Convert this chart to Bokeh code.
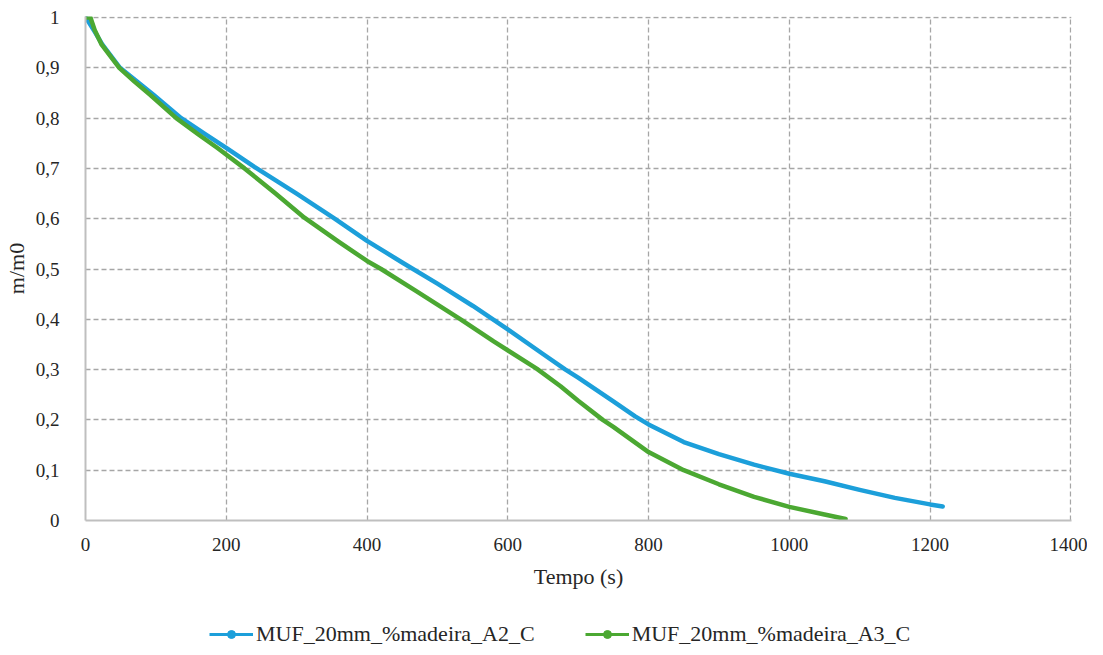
from bokeh.plotting import figure
from bokeh.layouts import column
from bokeh.models import (ColumnDataSource, Range1d, FixedTicker, CustomJSTickFormatter,
                          Legend, LegendItem)
from bokeh.embed import file_html
from bokeh.resources import INLINE

# ---- data ----
a2_t = [0, 5, 13, 24, 49, 75, 97, 136, 170, 200, 240, 300, 354, 400, 450, 500, 550,
        600, 650, 682, 700, 750, 781, 800, 850, 900, 950, 1000, 1050, 1100, 1150, 1200, 1218]
a2_v = [1.0, 0.99, 0.972, 0.946, 0.9, 0.871, 0.846, 0.8, 0.768, 0.741, 0.703, 0.65, 0.6,
        0.556, 0.513, 0.471, 0.427, 0.38, 0.331, 0.3, 0.284, 0.237, 0.207, 0.191, 0.156,
        0.132, 0.111, 0.093, 0.078, 0.061, 0.045, 0.032, 0.028]

a3_t = [0, 7, 13, 23, 48, 70, 93, 129, 160, 188, 226, 270, 311, 360, 400, 420, 470, 533,
        580, 641, 675, 700, 735, 750, 800, 850, 900, 926, 950, 1000, 1050, 1080]
a3_v = [1.0, 1.0, 0.975, 0.946, 0.9, 0.872, 0.845, 0.8, 0.768, 0.74, 0.7, 0.65, 0.602,
        0.554, 0.516, 0.5, 0.456, 0.4, 0.356, 0.302, 0.267, 0.238, 0.2, 0.186, 0.136, 0.1,
        0.072, 0.059, 0.047, 0.027, 0.012, 0.003]

names = ["MUF_20mm_%madeira_A2_C", "MUF_20mm_%madeira_A3_C"]
colors = ["#1c9fda", "#4ba832"]

x_ticks = [0, 200, 400, 600, 800, 1000, 1200, 1400]
y_ticks = [0, 0.1, 0.2, 0.3, 0.4, 0.5, 0.6, 0.7, 0.8, 0.9, 1.0]

FONT = "Liberation Serif"
TXT = "#262626"

p = figure(width=1087, height=600, output_backend="svg", toolbar_location=None,
           x_range=Range1d(0, 1401), y_range=Range1d(0, 1.002))
p.min_border_left = 84
p.min_border_right = 16
p.min_border_top = 16
p.min_border_bottom = 80
p.outline_line_color = None
p.background_fill_color = "white"
p.border_fill_color = "white"

for ax in (p.xaxis[0], p.yaxis[0]):
    ax.axis_line_color = "#bfbfbf"
    ax.axis_line_width = 2
    ax.major_tick_line_color = None
    ax.minor_tick_line_color = None
    ax.major_label_text_font = FONT
    ax.major_label_text_font_size = "19px"
    ax.major_label_text_color = TXT
    ax.axis_label_text_font = FONT
    ax.axis_label_text_font_style = "normal"
    ax.axis_label_text_font_size = "22px"
    ax.axis_label_text_color = TXT

p.xaxis.ticker = FixedTicker(ticks=x_ticks)
p.yaxis.ticker = FixedTicker(ticks=y_ticks)
p.yaxis.formatter = CustomJSTickFormatter(code="""
    if (Math.abs(tick) < 1e-9) return "0";
    if (Math.abs(tick - 1) < 1e-9) return "1";
    return tick.toFixed(1).replace('.', ',');
""")
p.xaxis.axis_label = "Tempo (s)"
p.yaxis.axis_label = "m/m0"
p.xaxis.major_label_standoff = 11
p.yaxis.major_label_standoff = 20
p.xaxis.axis_label_standoff = 10
p.yaxis.axis_label_standoff = 4

for g in (p.xgrid[0], p.ygrid[0]):
    g.grid_line_color = "#a6a6a6"
    g.grid_line_dash = "5 3"
    g.grid_line_width = 1.3

s2 = ColumnDataSource(dict(x=a2_t, y=a2_v))
s3 = ColumnDataSource(dict(x=a3_t, y=a3_v))
p.line("x", "y", source=s2, line_color=colors[0], line_width=4.5, line_join="round", line_cap="round")
p.line("x", "y", source=s3, line_color=colors[1], line_width=4.5, line_join="round", line_cap="round")

# ---- legend strip below the chart ----
p2 = figure(width=1087, height=55, output_backend="svg", toolbar_location=None,
            x_axis_type=None, y_axis_type=None, x_range=Range1d(0, 1), y_range=Range1d(0, 1),
            min_border_left=0, min_border_right=0, min_border_top=0, min_border_bottom=0)
p2.frame_align = False
p2.outline_line_color = None
p2.xgrid.visible = False
p2.ygrid.visible = False
items = []
for name, c in zip(names, colors):
    # off-screen stand-ins: these only supply the legend's key glyphs
    ln = p2.line(x=[-5, -4], y=[-5, -5], line_color=c, line_width=3)
    sc = p2.scatter(x=[-5], y=[-5], marker="circle", size=6, fill_color=c, line_color=c)
    items.append(LegendItem(label=name, renderers=[ln, sc]))
legend = Legend(items=items, orientation="horizontal", location=(209, 8))
legend.border_line_color = None
legend.background_fill_alpha = 0
legend.padding = 0
legend.margin = 0
legend.spacing = 50
legend.glyph_width = 44
legend.glyph_height = 20
legend.label_standoff = 3
legend.label_text_font = FONT
legend.label_text_font_size = "22px"
legend.label_text_color = TXT
legend.label_height = 20
p2.add_layout(legend, "center")

layout = column(p, p2, spacing=0)
open("out.html", "w").write(file_html(layout, INLINE))
